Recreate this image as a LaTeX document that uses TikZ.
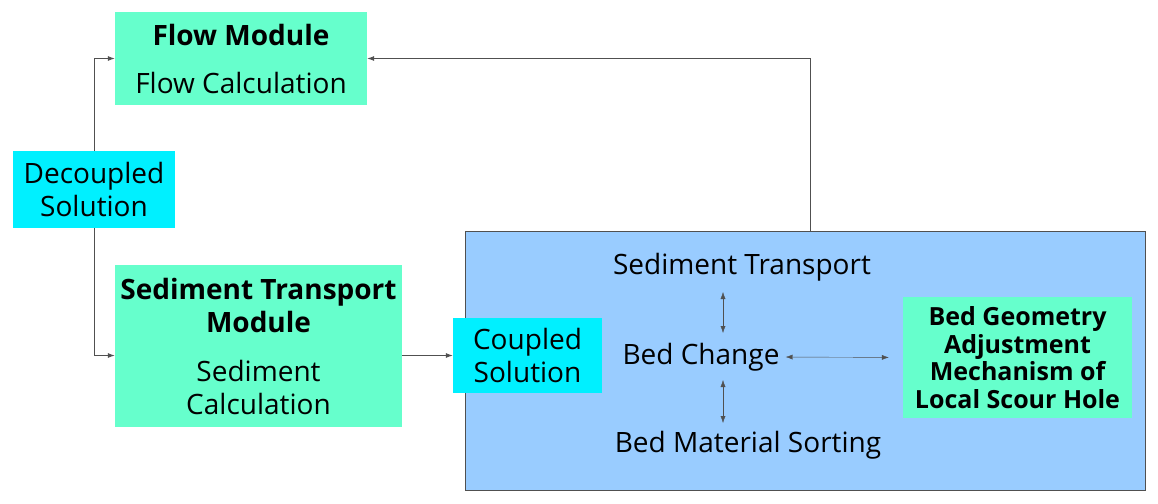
\documentclass[tikz,border=0pt]{standalone}
\usepackage{fontspec}
\setmainfont{Open Sans}
\usetikzlibrary{arrows.meta,positioning}
\definecolor{modgreen}{RGB}{102,255,204}
\definecolor{solcyan}{RGB}{0,240,255}
\definecolor{couplblue}{RGB}{153,204,255}
\definecolor{linegray}{RGB}{80,80,80}

\begin{document}
\begin{tikzpicture}[x=1pt,y=-1pt,>={Latex[length=7pt,width=5pt]}]
\tikzstyle{module}=[fill=modgreen,inner sep=0pt,align=center,font=\fontsize{28}{33}\selectfont]
\tikzstyle{solution}=[fill=solcyan,inner sep=0pt,align=center,font=\fontsize{28}{33}\selectfont]
\tikzstyle{plain}=[inner sep=2pt,font=\fontsize{28}{33}\selectfont]
\tikzstyle{link}=[->,thick,linegray]
\useasboundingbox (0,0) rectangle (1158,503);
\node[draw=linegray,thick,fill=couplblue,minimum width=680,minimum height=259] (cpl) at (805,360.5) {};
\node[module,minimum width=252,minimum height=93] (flow) at (241,58.5)
  {\textbf{Flow Module}\\[15pt]Flow Calculation};
\node[module,minimum width=287,minimum height=162] (sed) at (258.5,346)
  {\textbf{Sediment Transport}\\\textbf{Module}\\[16pt]Sediment\\Calculation};
\node[module,minimum width=229,minimum height=121,font=\fontsize{25}{27.5}\selectfont\bfseries] (geo) at (1017.5,357.5)
  {Bed Geometry\\Adjustment\\Mechanism of\\Local Scour Hole};
\node[plain] (st) at (742,267) {Sediment Transport};
\node[plain] (bc) at (701,357) {Bed Change};
\node[plain] (bms) at (748,445) {Bed Material Sorting};
\coordinate (ax) at (723,0);
\node[solution,minimum width=162,minimum height=77] (dec) at (94,189.5) {Decoupled\\Solution};
\node[solution,minimum width=149,minimum height=75] (cs) at (527.5,355.5) {Coupled\\Solution};
% links between modules
\draw[link] (dec.north) |- (flow.west);
\draw[link] (dec.south) |- (sed.west |- cs);
\draw[link] (sed.east |- cs) -- (cs.west);
\draw[link] (cpl.north -| 810,0) |- (flow.east);
% inside the coupled box
\draw[<->,linegray] (ax |- 0,292) -- (ax |- 0,333);
\draw[<->,linegray] (ax |- 0,380) -- (ax |- 0,423);
\draw[<->,linegray,shorten <=4pt,shorten >=14pt] (bc.east) -- (geo.west);
\end{tikzpicture}
\end{document}
